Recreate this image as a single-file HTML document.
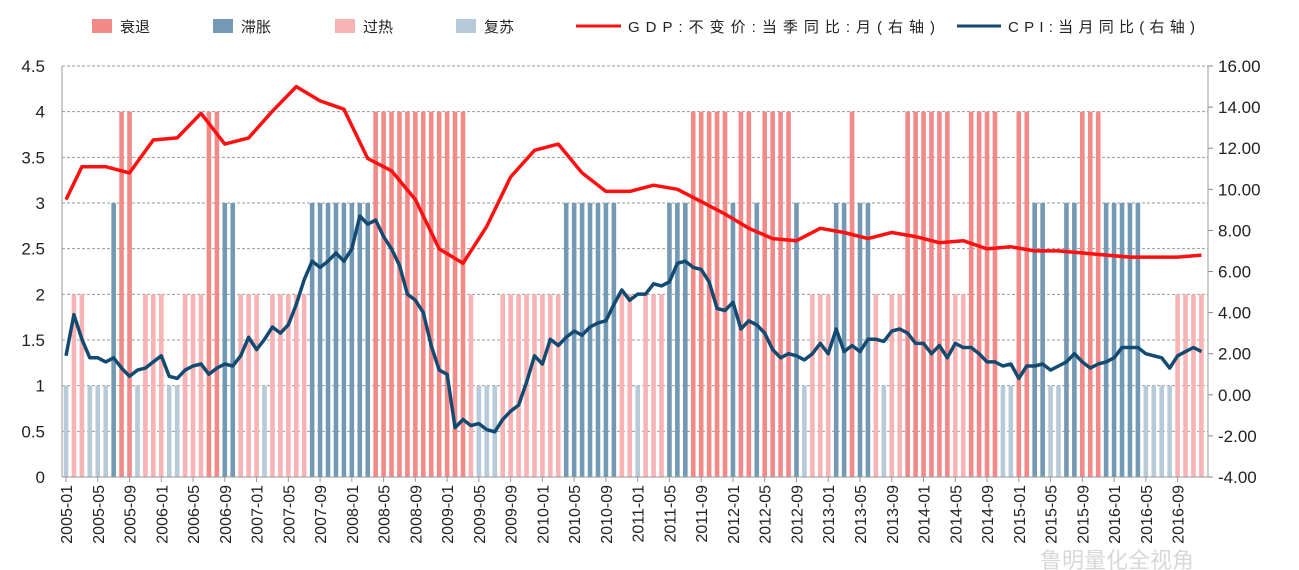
<!DOCTYPE html>
<html><head><meta charset="utf-8"><style>
body{margin:0;background:#fff;}
svg{display:block;font-family:"Liberation Sans","Noto Sans CJK SC",sans-serif;}
</style></head><body>
<svg id="chart" width="1299" height="570" viewBox="0 0 1299 570" xmlns="http://www.w3.org/2000/svg">
<g id="legend" font-size="15" fill="#222">
<rect x="92" y="19" width="20" height="14" fill="#f28a8a"/>
<text x="120" y="32">衰退</text>
<rect x="213" y="19" width="20" height="14" fill="#7499b4"/>
<text x="241" y="32">滞胀</text>
<rect x="335" y="19" width="20" height="14" fill="#f8b4b4"/>
<text x="363" y="32">过热</text>
<rect x="456" y="19" width="20" height="14" fill="#b6cad9"/>
<text x="484" y="32">复苏</text>
<line x1="576" y1="26" x2="621" y2="26" stroke="#ff1010" stroke-width="3"/>
<text x="628" y="32" textLength="307" lengthAdjust="spacing">GDP:不变价:当季同比:月(右轴)</text>
<line x1="957" y1="26" x2="1001" y2="26" stroke="#134a72" stroke-width="3"/>
<text x="1008" y="32" textLength="187" lengthAdjust="spacing">CPI:当月同比(右轴)</text>
</g>
<g id="grid"></g><g id="bars"></g><g id="lines"></g><g id="axes"></g>
<text x="1040" y="568" font-size="22" fill="#d8d8d8">鲁明量化全视角</text>
</svg>
<script>
const phases=[1,2,2,1,1,1,3,4,4,1,2,2,2,1,1,2,2,2,4,4,3,3,2,2,2,1,2,2,2,2,2,3,3,3,3,3,3,3,3,
4,4,4,4,4,4,4,4,4,4,4,4,2,1,1,1,2,2,2,2,2,2,2,2,3,3,3,3,3,3,3,2,2,1,2,2,2,3,3,3,4,4,4,4,4,3,4,4,3,4,4,4,4,3,1,2,2,2,3,3,4,3,3,2,1,2,2,
4,4,4,4,4,4,2,2,4,4,4,4,1,1,4,4,3,3,1,1,3,3,4,4,4,3,3,3,3,3,1,1,1,1,2,2,2,2];
const gdpIdx=[0];for(let k=0;k<48;k++)gdpIdx.push(2+3*k);
const gdp=[9.5,11.1,11.1,10.8,12.4,12.5,13.7,12.2,12.5,13.8,15.0,14.3,13.9,11.5,10.9,9.5,7.1,6.4,8.2,10.6,11.9,12.2,10.8,9.9,9.9,10.2,10.0,9.4,8.8,8.1,7.6,7.5,8.1,7.9,7.6,7.9,7.7,7.4,7.5,7.1,7.2,7.0,7.0,6.9,6.8,6.7,6.7,6.7,6.8];
const cpi=[1.9,3.9,2.7,1.8,1.8,1.6,1.8,1.3,0.9,1.2,1.3,1.6,
1.9,0.9,0.8,1.2,1.4,1.5,1.0,1.3,1.5,1.4,1.9,2.8,
2.2,2.7,3.3,3.0,3.4,4.4,5.6,6.5,6.2,6.5,6.9,6.5,
7.1,8.7,8.3,8.5,7.7,7.1,6.3,4.9,4.6,4.0,2.4,1.2,
1.0,-1.6,-1.2,-1.5,-1.4,-1.7,-1.8,-1.2,-0.8,-0.5,0.6,1.9,
1.5,2.7,2.4,2.8,3.1,2.9,3.3,3.5,3.6,4.4,5.1,4.6,
4.9,4.9,5.4,5.3,5.5,6.4,6.5,6.2,6.1,5.5,4.2,4.1,
4.5,3.2,3.6,3.4,3.0,2.2,1.8,2.0,1.9,1.7,2.0,2.5,
2.0,3.2,2.1,2.4,2.1,2.7,2.7,2.6,3.1,3.2,3.0,2.5,
2.5,2.0,2.4,1.8,2.5,2.3,2.3,2.0,1.6,1.6,1.4,1.5,
0.8,1.4,1.4,1.5,1.2,1.4,1.6,2.0,1.6,1.3,1.5,1.6,
1.8,2.3,2.3,2.3,2.0,1.9,1.8,1.3,1.9,2.1,2.3,2.1];
const leftTicks=[0,0.5,1,1.5,2,2.5,3,3.5,4,4.5];
const leftTickLabels=["0","0.5","1","1.5","2","2.5","3","3.5","4","4.5"];
const rightTicks=[-4,-2,0,2,4,6,8,10,12,14,16];
const rightTickLabels=["-4.00","-2.00","0.00","2.00","4.00","6.00","8.00","10.00","12.00","14.00","16.00"];
const phaseColors={1:"#b6cad9",2:"#f8b4b4",3:"#7499b4",4:"#f28a8a"};
const L=62,R=1208,T=66,B=477;
const xs=i=>66+i*7.94;
const yl=v=>B-(v/4.5)*(B-T);
const yr=v=>B-((v+4)/20)*(B-T);
const NS="http://www.w3.org/2000/svg";
function mk(tag,attrs,parent){const e=document.createElementNS(NS,tag);for(const k in attrs)e.setAttribute(k,attrs[k]);parent.appendChild(e);return e;}
const grid=document.getElementById('grid'),bars=document.getElementById('bars'),lines=document.getElementById('lines'),axes=document.getElementById('axes');
leftTicks.forEach((v,i)=>{
 if(v>0){const g=mk('line',{x1:L,x2:R,y1:yl(v),y2:yl(v),stroke:'#999','stroke-dasharray':'3,2','stroke-width':1},grid);
 
 }
 const t=mk('text',{x:45,y:yl(v)+6,'text-anchor':'end','font-size':17,fill:'#222'},axes);t.textContent=leftTickLabels[i];
 
 
});
rightTicks.forEach((v,i)=>{
 const tk=mk('line',{x1:R,x2:R+5,y1:yr(v),y2:yr(v),stroke:'#888'},axes);
 
 
 const t=mk('text',{x:1218,y:yr(v)+6,'font-size':17,fill:'#222'},axes);t.textContent=rightTickLabels[i];
 
 
});
phases.forEach((p,i)=>{
 const r=mk('rect',{x:xs(i)-2.3,y:yl(p),width:4.6,height:B-yl(p),fill:phaseColors[p]},bars);
 
 
});
const gpts=gdp.map((v,k)=>xs(gdpIdx[k]).toFixed(1)+','+yr(v).toFixed(1)).join(' ');
const gl=mk('polyline',{points:gpts,fill:'none',stroke:'#ff1010','stroke-width':3.5,'stroke-linejoin':'round'},lines);


const cpts=cpi.map((v,i)=>xs(i).toFixed(1)+','+yr(v).toFixed(1)).join(' ');
const cl=mk('polyline',{points:cpts,fill:'none',stroke:'#134a72','stroke-width':3.5,'stroke-linejoin':'round'},lines);


const la=mk('line',{x1:L,x2:L,y1:T,y2:B,stroke:'#999'},axes);


const ra=mk('line',{x1:R,x2:R,y1:T,y2:B,stroke:'#999'},axes);


const xa=mk('line',{x1:L,x2:R,y1:B,y2:B,stroke:'#999'},axes);


for(let i=0;i<144;i+=4){
 const y=2005+Math.floor(i/12),m=i%12+1;
 const lbl=y+'-'+(m<10?'0':'')+m;
 const x=xs(i);
 const tk=mk('line',{x1:x,x2:x,y1:B,y2:B+5,stroke:'#999'},axes);
 
 
 const t=mk('text',{x:0,y:0,'font-size':16,fill:'#222','text-anchor':'end',transform:`translate(${x+6},${B+8}) rotate(-90)`},axes);
 t.textContent=lbl;
 
 
}
</script>
</body></html>
